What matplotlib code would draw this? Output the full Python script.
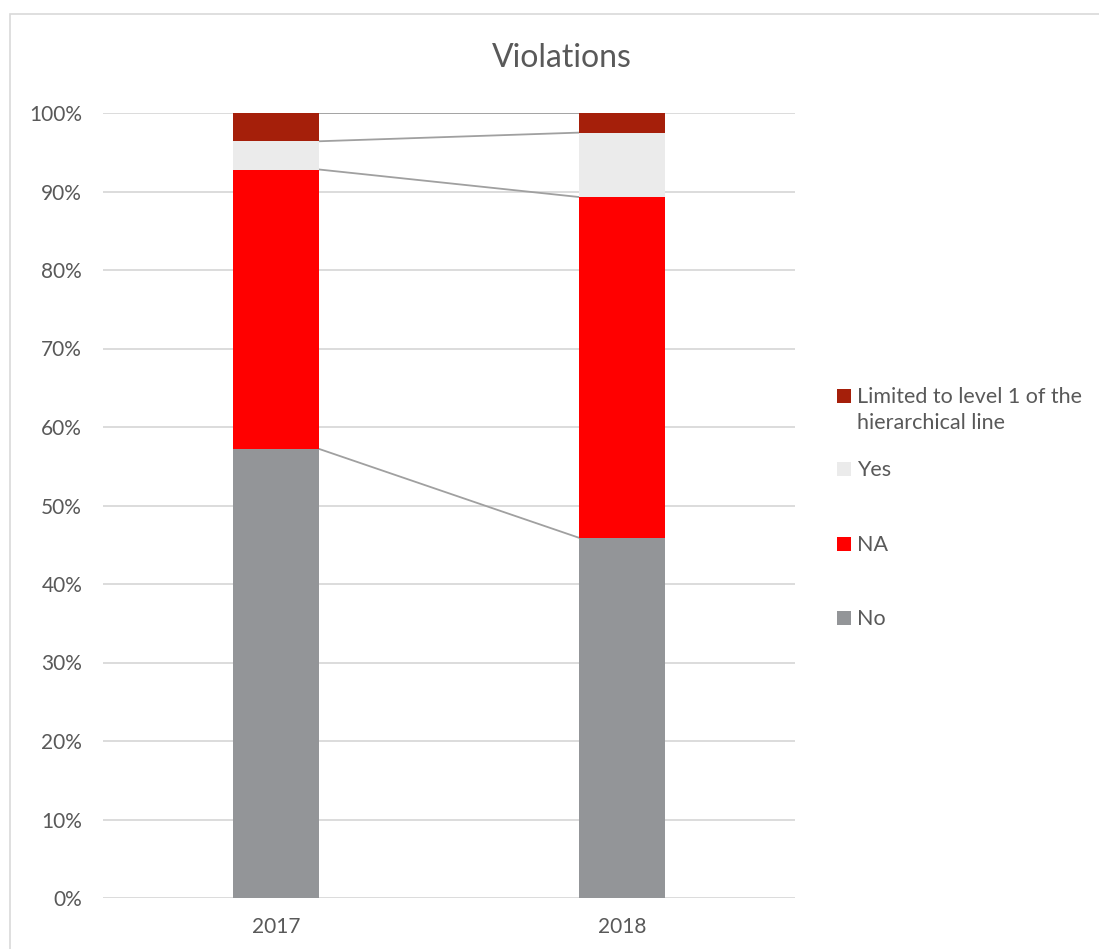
import matplotlib
matplotlib.use("Agg")
import matplotlib.pyplot as plt
import numpy as np
from matplotlib.patches import Rectangle

plt.rcParams['font.family'] = ['Lato', 'DejaVu Sans']

years = ["2017", "2018"]
series_names = ["No", "NA", "Yes", "Limited to level 1 of the\nhierarchical line"]
no_vals = [57.2, 45.9]
na_vals = [35.6, 43.4]
yes_vals = [3.6, 8.2]
limited_vals = [3.6, 2.5]
series_values = [no_vals, na_vals, yes_vals, limited_vals]
series_colors = ["#939598", "#FF0000", "#EBEBEB", "#A51F0A"]
y_ticks = [0, 10, 20, 30, 40, 50, 60, 70, 80, 90, 100]

text_color = "#595959"
grid_color = "#D9D9D9"

W, H = 1099, 949
fig = plt.figure(figsize=(W / 100, H / 100), dpi=100)

# chart frame
fig.patches.append(Rectangle((10 / W, -0.01), 1.2, 1 - 14 / H + 0.01,
                             transform=fig.transFigure, fill=False,
                             edgecolor=grid_color, linewidth=1.2))

ax = fig.add_axes([103 / W, 1 - 898 / H, (795 - 103) / W, (898 - 113) / H])
x = np.arange(len(years))
bar_w = 0.25

totals = np.array([sum(v[i] for v in series_values) for i in range(len(years))])
bottom = np.zeros(len(years))
for vals, col in zip(series_values, series_colors):
    pct = np.array(vals) / totals * 100
    ax.bar(x, pct, bar_w, bottom=bottom, color=col, zorder=3, linewidth=0)
    bottom = bottom + pct
    # series line connecting the stacked segment tops
    ax.plot([x[0] + bar_w / 2, x[1] - bar_w / 2], [bottom[0], bottom[1]],
            color="#A0A0A0", linewidth=1.3, zorder=2)

ax.set_xlim(-0.5, 1.5)
ax.set_ylim(0, 100)
ax.set_yticks(y_ticks)
ax.set_yticklabels([f"{t}%" for t in y_ticks])
ax.set_xticks(x)
ax.set_xticklabels(years)
ax.grid(axis='y', color=grid_color, linewidth=1.3, zorder=0)
ax.set_axisbelow(True)
for s in ax.spines.values():
    s.set_visible(False)
ax.tick_params(axis='both', length=0, labelsize=15, colors=text_color)
ax.tick_params(axis='y', pad=15)
ax.tick_params(axis='x', pad=14)

fig.text(562 / W, 1 - 58 / H, "Violations", ha='center', va='center',
         fontsize=23, color=text_color)

# legend, top entry is the last series
legend_y = [396, 469, 544, 618]
for name, col, yy in zip(series_names[::-1], series_colors[::-1], legend_y):
    fig.patches.append(Rectangle((837 / W, 1 - (yy + 7) / H), 14 / W, 14 / H,
                                 transform=fig.transFigure, facecolor=col,
                                 edgecolor='none'))
    fig.text(857 / W, 1 - (yy - 9) / H, name, ha='left', va='top',
             fontsize=15.5, color=text_color, linespacing=1.38)

fig.savefig("out.png", dpi=100)
